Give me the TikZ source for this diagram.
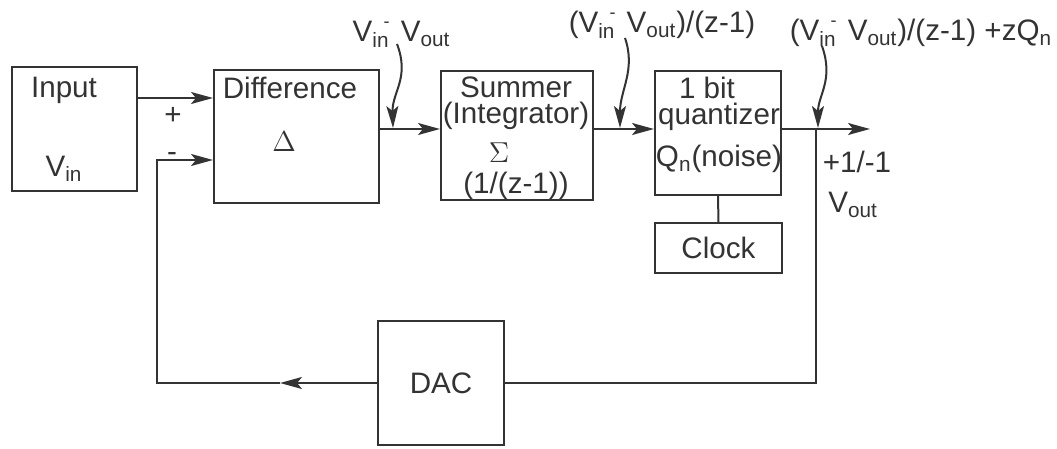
\documentclass[tikz,border=0pt]{standalone}
\usepackage{fontspec}
\setmainfont{Liberation Sans}
\usetikzlibrary{positioning,arrows.meta,calc}

\definecolor{ink}{HTML}{333333}
\newcommand{\vinminus}{V\textsubscript{in}\llap{\raisebox{0.5em}{\fontsize{9}{9}\selectfont -}}\kern1.5pt}
\newcommand{\voutsub}{V\textsubscript{out}}

\begin{document}
\begin{tikzpicture}[
    x=0.5pt, y=-0.5pt, color=ink,
    every node/.style={font=\fontsize{14.8}{12}\selectfont},
    box/.style={draw, line width=1pt, inner sep=0pt},
    txt/.style={inner sep=0pt, align=center, anchor=north},
    lbl/.style={inner sep=0pt, anchor=base},
    arr/.style={-{Stealth[length=11pt, width=6pt, inset=2.5pt]}, line width=1pt},
    wire/.style={line width=1pt}
]
\useasboundingbox (0,0) rectangle (1057,449);

% blocks
\node[box, minimum width=62.5pt, minimum height=62pt] (input) at (74.5,129) {};
\node[box, minimum width=82.5pt, minimum height=66.5pt] (diff) at (296.5,136.5) {};
\node[box, minimum width=76pt, minimum height=64.5pt] (sum) at (517,135.5) {};
\node[box, minimum width=63pt, minimum height=62pt] (quant) at (718,133) {};
\node[box, minimum width=63.5pt, minimum height=25pt] (clock) at (718.5,248) {Clock};
\node[box, minimum width=63pt, minimum height=62pt] (dac) at (441,383) {DAC};

% block texts
\node[txt] (input-txt) at (64,76.5) {Input\\[25.5pt]V\textsubscript{in}};
\node[txt] (diff-txt) at (290,76.5) {Difference\\[14.75pt]\hspace*{-6pt}$\Delta$};
\node[txt] (sum-txt) at (516,76.5) {Summer\\[1pt](Integrator)\\[5.8pt]\hspace*{-17pt}$\Sigma$\\[3.2pt](1/(z-1))};
\node[txt] (quant-txt) at (719,76.5) {\hspace*{-12pt}1 bit\\[1pt]quantizer\\[6.5pt]Q\textsubscript{n}(noise)};

% signal labels
\node[lbl] (lab-diff) at (401.5,42) {\vinminus{} \voutsub};
\node[lbl] (lab-sum) at (662,33) {(\vinminus{} \voutsub)/(z-1)};
\node[lbl] (lab-quant) at (921,41) {(\vinminus{} \voutsub)/(z-1) +zQ\textsubscript{n}};
\node[lbl] (plus) at (173,125) {+};
\node[lbl] (minus) at (172,162) {-};
\node[lbl] (pm) at (857,173) {+1/-1};
\node[lbl, anchor=base west] (vout-lbl) at (828,213) {\voutsub};

% points on the wires
\coordinate (in-y) at (0,98);
\coordinate (sig) at (0,129);
\coordinate (fb-y) at (0,160);
\coordinate (out-end) at (870,129);
\coordinate (junc) at (816,129);
\coordinate (fb-arr) at (280,383);
\coordinate (fb-corner) at (157,383);
\coordinate (s1) at (397,44);
\coordinate (t1) at (393,128);
\coordinate (s2) at (625,38);
\coordinate (t2) at (620,128);
\coordinate (s3) at (822,46);
\coordinate (t3) at (818,128);

% wires
\draw[arr] (input.east |- in-y) -- (diff.west |- in-y);
\draw[arr] (diff.east |- sig) -- (sum.west |- sig);
\draw[arr] (sum.east |- sig) -- (quant.west |- sig);
\draw[arr] (quant.east |- sig) -- (out-end);
\draw[wire] (quant.south) -- (clock.north);
\draw[wire] (junc) |- (dac.east);
\draw[arr] (dac.west) -- (fb-arr);
\draw[arr] (fb-arr) -- (fb-corner) |- (diff.west |- fb-y);

% pointers from labels
\draw[arr] (s1) .. controls (410,78) and (392,92) .. (t1);
\draw[arr] (s2) .. controls (636,70) and (620,90) .. (t2);
\draw[arr] (s3) .. controls (834,80) and (818,95) .. (t3);
\end{tikzpicture}
\end{document}
